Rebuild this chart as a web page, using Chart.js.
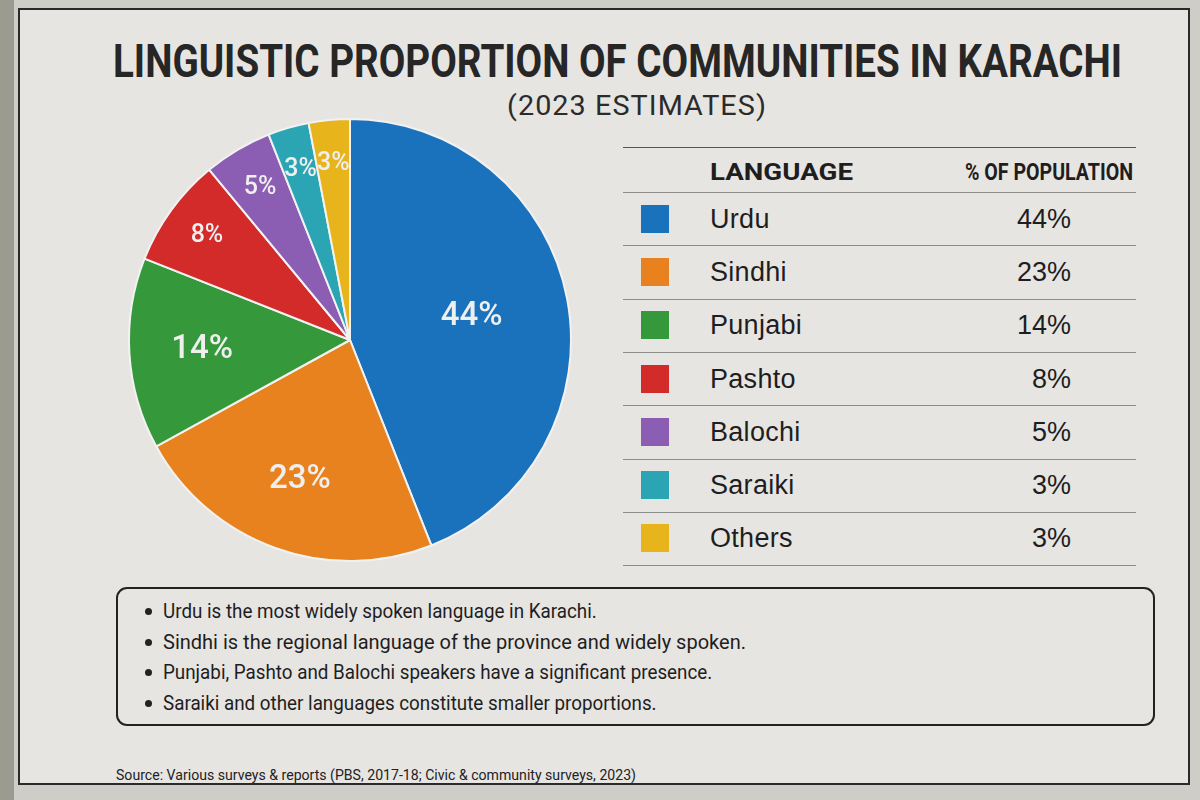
<!DOCTYPE html>
<html>
<head>
<meta charset="utf-8">
<script src="https://cdn.jsdelivr.net/npm/chart.js@4.4.0/dist/chart.umd.min.js"></script>
<style>
    html, body { margin: 0; padding: 0; }
    body {
        width: 1200px; height: 800px; overflow: hidden;
        background: #cfcdc8; position: relative;
        font-family: Roboto, "Liberation Sans", sans-serif; color: #1e1e1e;
    }
    #edge { position: absolute; left: 0; top: 0; width: 14px; height: 800px; background: #9c9b8f; }
    #sheet {
        position: absolute; left: 18px; top: 8px; width: 1172px; height: 777px;
        background: #e7e5e2; border: 2px solid #2a2a2a; box-sizing: border-box;
    }
    .abs { position: absolute; white-space: nowrap; transform-origin: left top; }
    #title { left: 113px; top: 38px; font-size: 46px; font-weight: 700; color: #262626; line-height: 1; }
    #subtitle { left: 507px; top: 93px; font-size: 27px; font-weight: 400; color: #2b2b2b; letter-spacing: 1px; line-height: 1; }
    #pieBox { position: absolute; left: 125px; top: 115px; width: 450px; height: 450px; }
    .rule { position: absolute; left: 623px; width: 513px; height: 0; border-top: 1.5px solid #8c8c8c; }
    .th { font-size: 23px; font-weight: 700; line-height: 1; color: #1e1e1e; }
    .swatch { position: absolute; left: 641px; width: 28px; height: 28px; }
    .lang { font-family: "Liberation Sans", Arial, sans-serif; font-size: 27px; line-height: 1; color: #1e1e1e; letter-spacing: 0.3px; }
    .val { font-family: "Liberation Sans", Arial, sans-serif; font-size: 27px; line-height: 1; color: #1e1e1e; }
    #notes {
        position: absolute; left: 116px; top: 587px; width: 1039px; height: 139px;
        border: 2px solid #222; border-radius: 11px; box-sizing: border-box;
    }
    .note { font-size: 20px; line-height: 1; color: #1e1e1e; }
    .dot { position: absolute; left: 145px; width: 7px; height: 7px; border-radius: 50%; background: #222; }
    #source { left: 116px; top: 768px; font-size: 14px; color: #222; line-height: 1; }
</style>
</head>
<body>
<div id="edge"></div>
<div id="sheet"></div>
<div id="title" class="abs">LINGUISTIC PROPORTION OF COMMUNITIES IN KARACHI</div>
<div id="subtitle" class="abs">(2023 ESTIMATES)</div>
<div id="pieBox"><canvas id="pieChart"></canvas></div>
<div id="notes"></div>
<div id="source" class="abs">Source: Various surveys &amp; reports (PBS, 2017-18; Civic &amp; community surveys, 2023)</div>

<script>
const languages = ["Urdu", "Sindhi", "Punjabi", "Pashto", "Balochi", "Saraiki", "Others"];
const shares = [44, 23, 14, 8, 5, 3, 3];
const sliceColors = ["#1a72bd", "#e8821e", "#35983a", "#d32a2a", "#8b5db3", "#2ba4b4", "#e7b41c"];
const notes = [
    "Urdu is the most widely spoken language in Karachi.",
    "Sindhi is the regional language of the province and widely spoken.",
    "Punjabi, Pashto and Balochi speakers have a significant presence.",
    "Saraiki and other languages constitute smaller proportions."
];

// squeeze a text element to a given width (poster uses condensed faces)
function fitWidth(el, width) {
    const w = el.getBoundingClientRect().width;
    el.style.transform = 'scaleX(' + (width / w) + ')';
}

function addDiv(cls, text, left, top) {
    const d = document.createElement('div');
    d.className = 'abs ' + cls;
    d.textContent = text;
    d.style.left = left + 'px';
    d.style.top = top + 'px';
    document.body.appendChild(d);
    return d;
}

// ---- table on the right ----
const rowTop = 192, rowH = 53.3;
function rule(y, color) {
    const r = document.createElement('div');
    r.className = 'rule';
    r.style.top = y + 'px';
    if (color) r.style.borderTopColor = color;
    document.body.appendChild(r);
}
rule(147, '#555');
rule(rowTop);
const hLang = addDiv('th', 'LANGUAGE', 710, 161);
fitWidth(hLang, 143);
const hPct = addDiv('th', '% OF POPULATION', 965, 161);
fitWidth(hPct, 168);

languages.forEach(function (name, i) {
    const mid = rowTop + rowH * i + rowH / 2;
    const sw = document.createElement('div');
    sw.className = 'swatch';
    sw.style.top = (mid - 14) + 'px';
    sw.style.background = sliceColors[i];
    document.body.appendChild(sw);
    addDiv('lang', name, 710, mid - 13);
    const v = addDiv('val', shares[i] + '%', 0, mid - 13);
    v.style.left = (1071 - v.getBoundingClientRect().width) + 'px';
    rule(rowTop + rowH * (i + 1));
});

// ---- notes box ----
notes.forEach(function (t, i) {
    const y = 601 + i * 30.7;
    const d = addDiv('note', t, 163, y);
    const dot = document.createElement('div');
    dot.className = 'dot';
    dot.style.top = (y + 7) + 'px';
    document.body.appendChild(dot);
    if (i === 1) fitWidth(d, 583);
    else d.style.transform = 'scaleX(0.94)';
});

fitWidth(document.getElementById('title'), 1009);
fitWidth(document.getElementById('subtitle'), 260);
fitWidth(document.getElementById('source'), 520);

// ---- pie labels drawn inside the slices ----
const sliceLabels = {
    id: 'sliceLabels',
    afterDatasetsDraw: function (chart) {
        const ctx = chart.ctx;
        const meta = chart.getDatasetMeta(0);
        ctx.save();
        ctx.fillStyle = '#efefef';
        ctx.textAlign = 'center';
        ctx.textBaseline = 'middle';
        meta.data.forEach(function (arc, i) {
            const p = arc.getProps(['x', 'y', 'startAngle', 'endAngle', 'outerRadius'], true);
            const v = shares[i];
            const a = (p.startAngle + p.endAngle) / 2;
            const k = v >= 30 ? 0.56 : v >= 10 ? 0.67 : 0.8;
            const size = v >= 10 ? 33 : 25;
            ctx.font = '500 ' + size + 'px Roboto, sans-serif';
            ctx.fillText(v + '%', p.x + Math.cos(a) * p.outerRadius * k, p.y + Math.sin(a) * p.outerRadius * k);
        });
        ctx.restore();
    }
};

new Chart(document.getElementById('pieChart'), {
    type: 'pie',
    data: {
        labels: languages,
        datasets: [{
            data: shares,
            backgroundColor: sliceColors,
            borderColor: '#f2f2f2',
            borderWidth: 2,
            hoverOffset: 0
        }]
    },
    options: {
        responsive: true,
        maintainAspectRatio: false,
        animation: false,
        layout: { padding: 3 },
        plugins: {
            legend: { display: false },
            tooltip: { enabled: false }
        }
    },
    plugins: [sliceLabels]
});
</script>
</body>
</html>
